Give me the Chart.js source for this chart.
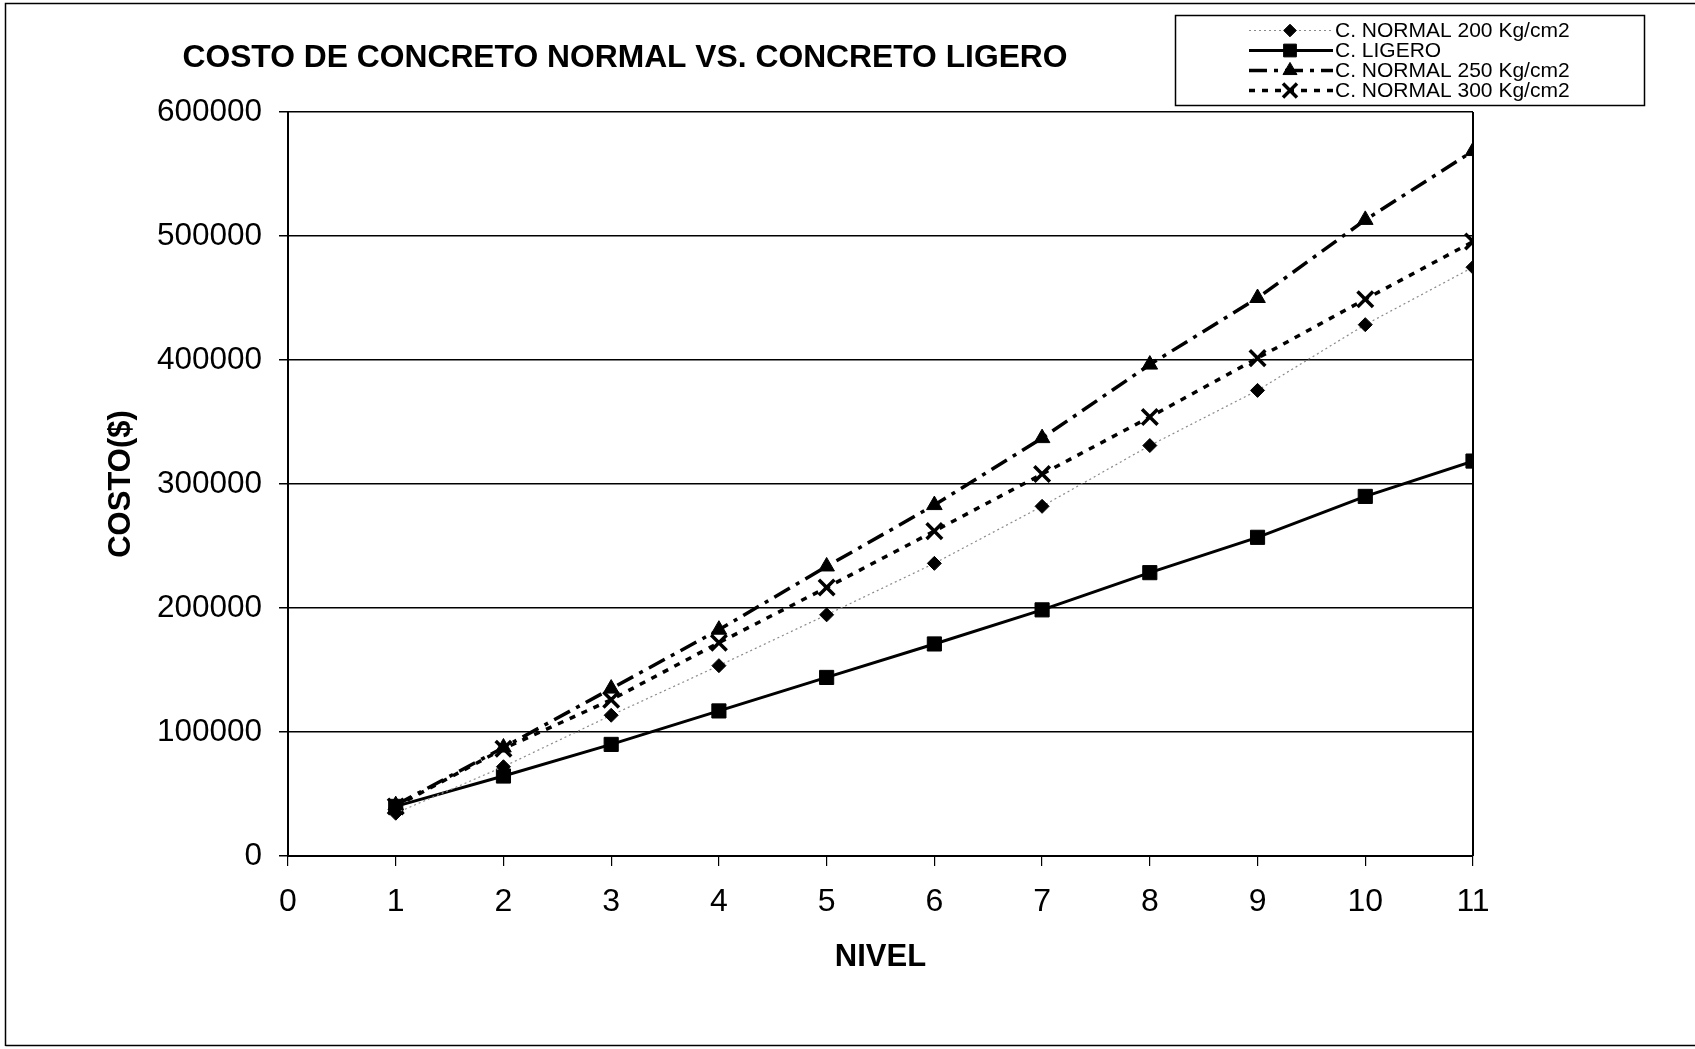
<!DOCTYPE html>
<html>
<head>
<meta charset="utf-8">
<title>Costo de concreto normal vs. concreto ligero</title>
<script src="https://cdn.jsdelivr.net/npm/chart.js@4.4.1/dist/chart.umd.min.js"></script>
<style>
  html, body { margin: 0; padding: 0; background: #fff; }
  #wrap { position: relative; width: 1695px; height: 1049px; }
  canvas { display: block; }
</style>
</head>
<body>
<div id="wrap"><canvas id="chart" width="1695" height="1049"></canvas></div>
<script>
// Cost per building level (nivel), in $
const niveles = [1, 2, 3, 4, 5, 6, 7, 8, 9, 10, 11];
const costoNormal200 = [34500, 72000, 113500, 153500, 194500, 236000, 282000, 331000, 375500, 428500, 474800];
const costoLigero    = [40000, 64500, 90000, 117000, 144000, 171000, 198500, 228500, 257000, 290000, 318500];
const costoNormal250 = [41000, 87500, 135000, 182500, 233500, 283000, 337000, 396300, 450000, 513000, 568500];
const costoNormal300 = [40000, 86500, 126000, 172000, 216500, 262000, 308000, 354000, 401500, 449000, 495500];

const seriesNames = ['C. NORMAL 200 Kg/cm2', 'C. LIGERO', 'C. NORMAL 250 Kg/cm2', 'C. NORMAL 300 Kg/cm2'];
const xTickValues = [0, 1, 2, 3, 4, 5, 6, 7, 8, 9, 10, 11];
const yTickValues = [0, 100000, 200000, 300000, 400000, 500000, 600000];
const chartTitle = 'COSTO DE CONCRETO NORMAL VS. CONCRETO LIGERO';
const xAxisTitle = 'NIVEL';
const yAxisTitle = 'COSTO($)';

const FONT = '"Liberation Sans", Arial, Helvetica, sans-serif';

function points(values) {
  return niveles.map((n, i) => ({ x: n, y: values[i] }));
}

// Line + marker styling for each series
const styles = [
  { color: '#8a8a8a', width: 1.2, dash: [2, 3], point: 'rectRot', radius: 7, pointBorder: 1 },
  { color: '#000', width: 3, dash: [], point: 'rect', radius: 10, pointBorder: 1 },
  { color: '#000', width: 3.5, dash: [18, 7, 4, 7], point: 'triangle', radius: 9, pointBorder: 1 },
  { color: '#000', width: 3.5, dash: [6, 7], point: 'crossRot', radius: 11, pointBorder: 3.5 }
];
const seriesValues = [costoNormal200, costoLigero, costoNormal250, costoNormal300];

const datasets = seriesValues.map((vals, i) => ({
  label: seriesNames[i],
  data: points(vals),
  borderColor: styles[i].color,
  borderWidth: styles[i].width,
  borderDash: styles[i].dash,
  pointStyle: styles[i].point,
  pointRadius: styles[i].radius,
  pointHoverRadius: styles[i].radius,
  pointBackgroundColor: '#000',
  pointBorderColor: '#000',
  pointBorderWidth: styles[i].pointBorder,
  tension: 0,
  fill: false
}));

function drawMarker(ctx, style, x, y, r, lw) {
  ctx.save();
  ctx.fillStyle = '#000';
  ctx.strokeStyle = '#000';
  ctx.setLineDash([]);
  ctx.lineWidth = lw;
  ctx.beginPath();
  if (style === 'rectRot') {
    ctx.moveTo(x - r, y); ctx.lineTo(x, y - r); ctx.lineTo(x + r, y); ctx.lineTo(x, y + r); ctx.closePath();
    ctx.fill(); ctx.stroke();
  } else if (style === 'rect') {
    const s = r * Math.SQRT1_2;
    ctx.rect(x - s, y - s, 2 * s, 2 * s);
    ctx.fill(); ctx.stroke();
  } else if (style === 'triangle') {
    ctx.moveTo(x, y - r); ctx.lineTo(x + r * 0.866, y + r / 2); ctx.lineTo(x - r * 0.866, y + r / 2); ctx.closePath();
    ctx.fill(); ctx.stroke();
  } else if (style === 'crossRot') {
    const d = r * Math.SQRT1_2;
    ctx.moveTo(x - d, y - d); ctx.lineTo(x + d, y + d);
    ctx.moveTo(x + d, y - d); ctx.lineTo(x - d, y + d);
    ctx.stroke();
  }
  ctx.restore();
}

// Frame, chart title, plot border and legend box
const decorations = {
  id: 'decorations',
  afterDraw(chart) {
    const ctx = chart.ctx;
    const area = chart.chartArea;
    ctx.save();
    // outer frame of the figure
    ctx.strokeStyle = '#000';
    ctx.lineWidth = 1.5;
    ctx.beginPath();
    ctx.moveTo(5.5, 1046); ctx.lineTo(5.5, 3.5); ctx.lineTo(1695, 3.5);
    ctx.moveTo(5.5, 1045.5); ctx.lineTo(1695, 1045.5);
    ctx.stroke();

    // right edge of the plot area
    ctx.lineWidth = 2;
    ctx.beginPath();
    ctx.moveTo(area.right, area.top); ctx.lineTo(area.right, area.bottom);
    ctx.stroke();

    // title
    ctx.fillStyle = '#000';
    ctx.font = 'bold 31.8px ' + FONT;
    ctx.textAlign = 'center';
    ctx.textBaseline = 'middle';
    ctx.fillText(chartTitle, 625, 58);

    // legend
    ctx.lineWidth = 1.5;
    ctx.strokeRect(1175.5, 15.5, 469, 90);
    ctx.font = '21px ' + FONT;
    ctx.textAlign = 'left';
    chart.data.datasets.forEach((ds, i) => {
      const y = 30.5 + i * 20;
      const st = styles[i];
      ctx.save();
      ctx.strokeStyle = st.color;
      ctx.lineWidth = st.width;
      ctx.setLineDash(st.dash);
      ctx.beginPath();
      ctx.moveTo(1249, y); ctx.lineTo(1333, y);
      ctx.stroke();
      ctx.restore();
      drawMarker(ctx, st.point, 1290, y, st.radius * 0.9, st.pointBorder);
      ctx.fillStyle = '#000';
      ctx.fillText(ds.label, 1335, y + 1);
    });
    ctx.restore();
  }
};

Chart.defaults.color = '#000';
Chart.defaults.font.family = FONT;

new Chart(document.getElementById('chart'), {
  type: 'line',
  data: { datasets },
  options: {
    responsive: false,
    animation: false,
    events: [],
    layout: { padding: { top: 112, right: 222, bottom: 0, left: 0 } },
    plugins: {
      legend: { display: false },
      title: { display: false },
      tooltip: { enabled: false }
    },
    scales: {
      x: {
        type: 'linear',
        min: 0,
        max: 11,
        afterBuildTicks(scale) { scale.ticks = xTickValues.map(v => ({ value: v })); },
        afterFit(scale) { scale.height = 193; },
        ticks: { font: { size: 32 }, padding: 17, callback: v => String(v), maxRotation: 0, autoSkip: false },
        grid: { display: true, drawOnChartArea: false, drawTicks: true, tickLength: 10, color: '#000', lineWidth: 1.2 },
        border: { display: true, color: '#000', width: 2 },
        title: { display: true, text: xAxisTitle, font: { size: 31, weight: 'bold' }, padding: { top: 0, bottom: 73 } }
      },
      y: {
        type: 'linear',
        min: 0,
        max: 600000,
        afterBuildTicks(scale) { scale.ticks = yTickValues.map(v => ({ value: v })); },
        afterFit(scale) { scale.width = 288; },
        ticks: { font: { size: 31.5 }, padding: 17, callback: v => String(v) },
        grid: { display: true, drawTicks: true, tickLength: 9, color: '#000', lineWidth: 1.5 },
        border: { display: true, color: '#000', width: 2 },
        title: { display: true, text: yAxisTitle, font: { size: 31, weight: 'bold' }, padding: { top: 103, bottom: 0 } }
      }
    }
  },
  plugins: [decorations]
});
</script>
</body>
</html>
